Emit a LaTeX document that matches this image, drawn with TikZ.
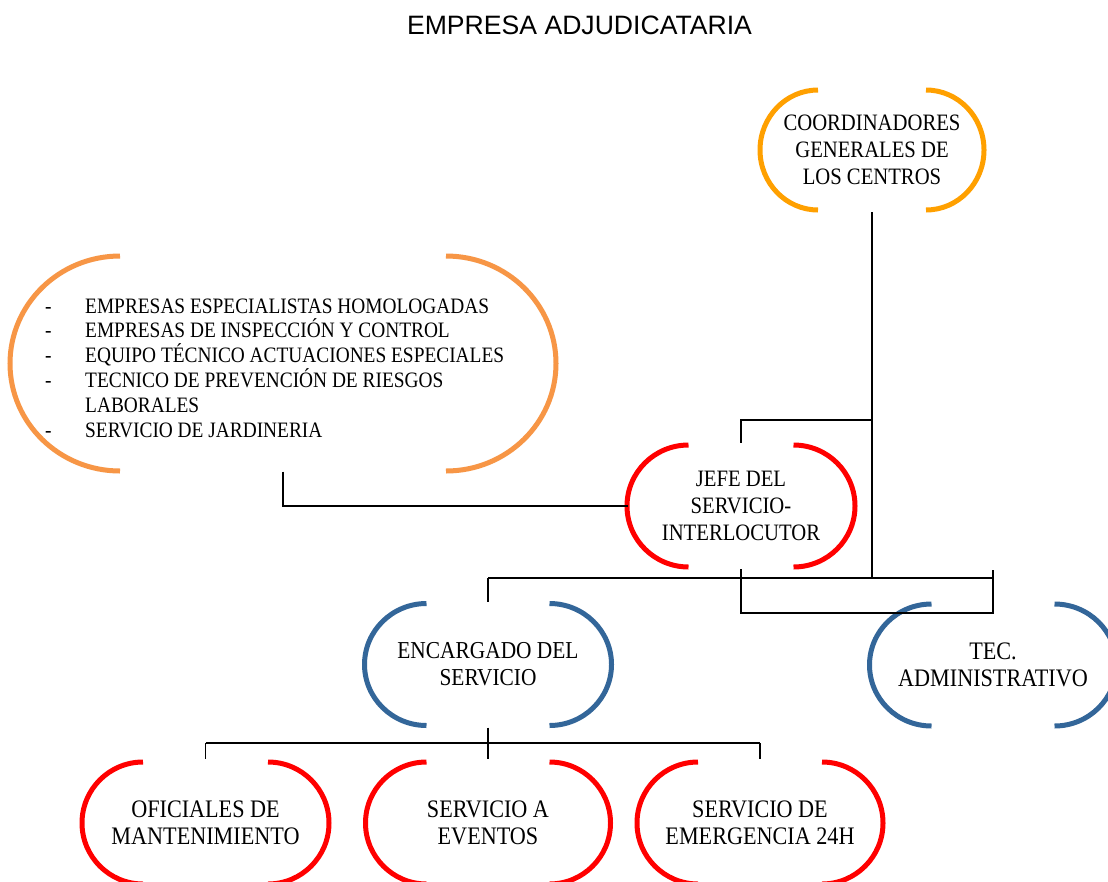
\documentclass[tikz,border=0pt]{standalone}
\usepackage{fontspec}
\setmainfont{Liberation Serif}[FakeStretch=0.88]
\newfontfamily\titlefont{Liberation Sans}
\usetikzlibrary{calc}
\definecolor{orgA}{HTML}{FFA000}
\definecolor{orgB}{HTML}{F79646}
\definecolor{redA}{HTML}{FF0000}
\definecolor{blueA}{HTML}{336699}
\tikzset{
  lbl/.style={align=center, font=\fontsize{23.5}{27}\selectfont, inner sep=0pt},
  lblb/.style={align=center, font=\fontsize{25.2}{27}\selectfont, inner sep=0pt},
  arcline/.style={line width=5pt},
  conn/.style={line width=1.8pt, black},
}
\newcommand{\brk}[5]{%
  \draw[arcline,#2] ($(#1.center)+(-#3,#5)$) arc[start angle=90,end angle=270,x radius=#4,y radius=#5];
  \draw[arcline,#2] ($(#1.center)+(#3,#5)$) arc[start angle=90,end angle=-90,x radius=#4,y radius=#5];
}
\begin{document}
\begin{tikzpicture}[x=1pt,y=-1pt]
\fill[white] (0,0) rectangle (1108,881);
\useasboundingbox (0,0) rectangle (1108,881);

\node[font=\titlefont\fontsize{26.6}{30}\selectfont, inner sep=0pt] (title) at (579.5,25) {EMPRESA ADJUDICATARIA};

\node[lbl] (coord) at (872,150) {COORDINADORES\\GENERALES DE\\LOS CENTROS};
\brk{coord}{orgA}{54}{58}{60}

\coordinate (ext) at (283,363.5);
\brk{ext}{orgB}{163}{110}{107.5}
\node[lbl, align=left, anchor=base west, font=\fontsize{22}{24.8}\selectfont] (lista) at (45,437) {%
\makebox[40pt][l]{-}EMPRESAS ESPECIALISTAS HOMOLOGADAS\\
\makebox[40pt][l]{-}EMPRESAS DE INSPECCIÓN Y CONTROL\\
\makebox[40pt][l]{-}EQUIPO TÉCNICO ACTUACIONES ESPECIALES\\
\makebox[40pt][l]{-}TECNICO DE PREVENCIÓN DE RIESGOS\\
\makebox[40pt][l]{}LABORALES\\
\makebox[40pt][l]{-}SERVICIO DE JARDINERIA};

\node[lbl] (jefe) at (741,506) {JEFE DEL\\SERVICIO-\\INTERLOCUTOR};
\brk{jefe}{redA}{52.5}{61.5}{61}

\node[lbl, font=\fontsize{24.3}{27}\selectfont] (enc) at (488,664.5) {ENCARGADO DEL\\SERVICIO};
\brk{enc}{blueA}{61.5}{62}{61}

\node[lblb] (tec) at (993,665) {TEC.\\ADMINISTRATIVO};
\brk{tec}{blueA}{61.5}{62}{61}

\node[lblb] (ofi) at (205.5,823) {OFICIALES DE\\MANTENIMIENTO};
\brk{ofi}{redA}{62.5}{61}{61}

\node[lblb] (ser) at (488,823) {SERVICIO A\\EVENTOS};
\brk{ser}{redA}{61.5}{61}{61}

\node[lblb] (eme) at (760,823) {SERVICIO DE\\EMERGENCIA 24H};
\brk{eme}{redA}{62}{61}{61}

\coordinate (br) at (0,420);
\coordinate (bus1) at (0,578);
\coordinate (bus2) at (0,613);
\coordinate (bus3) at (0,743);

\draw[conn] ($(coord)+(0,62)$) -- (coord |- bus1);
\draw[conn] (coord |- br) -| ($(jefe)+(0,-63)$);
\draw[conn] (enc |- bus1) -- (tec |- bus1);
\draw[conn] (enc |- bus1) -- ($(enc)+(0,-63)$);
\draw[conn] ($(tec)+(0,-95)$) -- (tec |- bus2) -- (jefe |- bus2) -- ($(jefe)+(0,63)$);
\draw[conn] ($(ext)+(0,108)$) |- ($(jefe)+(-113,0)$);
\draw[conn] ($(enc)+(0,63)$) -- (enc |- bus3);
\draw[conn] (ofi |- bus3) -- (eme |- bus3);
\draw[conn] (ofi |- bus3) -- ($(ofi)+(0,-64)$);
\draw[conn] (ser |- bus3) -- ($(ser)+(0,-64)$);
\draw[conn] (eme |- bus3) -- ($(eme)+(0,-64)$);
\end{tikzpicture}
\end{document}
